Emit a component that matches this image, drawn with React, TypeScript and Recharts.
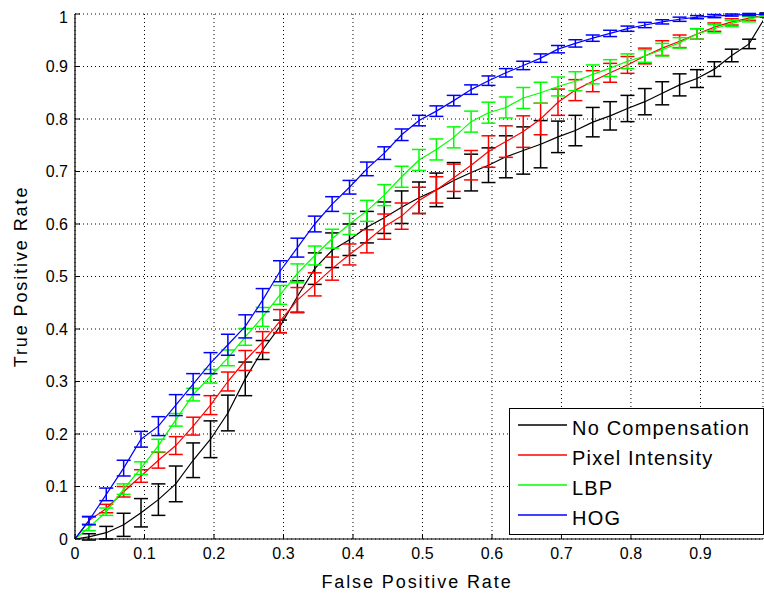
import React from 'react';
import { LineChart, Line, XAxis, YAxis, CartesianGrid, ErrorBar, Legend, Label } from 'recharts';

const fpr = [0, 0.02, 0.045, 0.07, 0.095, 0.12, 0.145, 0.17, 0.195, 0.22, 0.245, 0.27, 0.295, 0.32, 0.345, 0.37, 0.395, 0.42, 0.445, 0.47, 0.495, 0.52, 0.545, 0.57, 0.595, 0.62, 0.645, 0.67, 0.695, 0.72, 0.745, 0.77, 0.795, 0.82, 0.845, 0.87, 0.895, 0.92, 0.945, 0.97, 0.995, 1];

const noCompensation = [0, 0.004, 0.012, 0.027, 0.05, 0.075, 0.105, 0.15, 0.19, 0.24, 0.305, 0.36, 0.405, 0.462, 0.515, 0.55, 0.57, 0.594, 0.612, 0.632, 0.65, 0.665, 0.683, 0.698, 0.712, 0.728, 0.74, 0.752, 0.766, 0.778, 0.794, 0.806, 0.82, 0.833, 0.849, 0.865, 0.877, 0.895, 0.921, 0.943, 0.998, 1];
const noCompensationErr = [null, 0.006, 0.012, 0.022, 0.027, 0.03, 0.034, 0.033, 0.035, 0.034, 0.032, 0.018, 0.012, 0.03, 0.03, 0.033, 0.03, 0.03, 0.03, 0.031, 0.03, 0.032, 0.034, 0.035, 0.033, 0.04, 0.045, 0.045, 0.03, 0.029, 0.028, 0.027, 0.025, 0.025, 0.022, 0.021, 0.017, 0.014, 0.012, 0.009, 0.004, null];

const pixelIntensity = [0, 0.035, 0.058, 0.09, 0.12, 0.15, 0.178, 0.215, 0.255, 0.3, 0.34, 0.375, 0.415, 0.455, 0.485, 0.515, 0.542, 0.567, 0.595, 0.615, 0.645, 0.665, 0.688, 0.712, 0.738, 0.757, 0.776, 0.8, 0.832, 0.855, 0.872, 0.888, 0.903, 0.92, 0.935, 0.948, 0.962, 0.975, 0.985, 0.992, 0.998, 1];
const pixelIntensityErr = [null, 0.007, 0.008, 0.01, 0.012, 0.015, 0.017, 0.017, 0.018, 0.018, 0.019, 0.02, 0.022, 0.024, 0.022, 0.022, 0.02, 0.022, 0.024, 0.025, 0.025, 0.025, 0.026, 0.028, 0.03, 0.03, 0.03, 0.03, 0.025, 0.02, 0.02, 0.018, 0.016, 0.015, 0.014, 0.012, 0.01, 0.008, 0.006, 0.004, 0.002, null];

const lbp = [0, 0.022, 0.052, 0.095, 0.135, 0.178, 0.227, 0.275, 0.31, 0.345, 0.385, 0.423, 0.465, 0.506, 0.54, 0.572, 0.6, 0.625, 0.655, 0.69, 0.722, 0.742, 0.765, 0.795, 0.812, 0.822, 0.84, 0.85, 0.862, 0.872, 0.885, 0.897, 0.91, 0.92, 0.932, 0.945, 0.962, 0.972, 0.982, 0.99, 0.998, 1];
const lbpErr = [null, 0.006, 0.007, 0.01, 0.012, 0.012, 0.012, 0.012, 0.013, 0.015, 0.016, 0.018, 0.018, 0.018, 0.018, 0.018, 0.02, 0.02, 0.02, 0.02, 0.02, 0.02, 0.02, 0.02, 0.02, 0.02, 0.02, 0.02, 0.018, 0.018, 0.018, 0.016, 0.014, 0.012, 0.012, 0.01, 0.01, 0.008, 0.006, 0.005, 0.002, null];

const hog = [0, 0.035, 0.085, 0.135, 0.19, 0.215, 0.255, 0.295, 0.335, 0.37, 0.405, 0.455, 0.51, 0.555, 0.6, 0.638, 0.67, 0.705, 0.735, 0.77, 0.797, 0.815, 0.835, 0.856, 0.873, 0.888, 0.902, 0.916, 0.933, 0.944, 0.954, 0.963, 0.972, 0.979, 0.985, 0.99, 0.994, 0.996, 0.998, 0.999, 1, 1];
const hogErr = [null, 0.008, 0.012, 0.015, 0.015, 0.018, 0.02, 0.02, 0.02, 0.02, 0.022, 0.022, 0.02, 0.018, 0.015, 0.014, 0.013, 0.013, 0.012, 0.011, 0.01, 0.01, 0.01, 0.009, 0.009, 0.008, 0.008, 0.008, 0.007, 0.007, 0.006, 0.006, 0.005, 0.005, 0.004, 0.004, 0.003, 0.003, 0.002, 0.002, 0.001, null];

const xTicks = [0, 0.1, 0.2, 0.3, 0.4, 0.5, 0.6, 0.7, 0.8, 0.9];
const yTicks = [0, 0.1, 0.2, 0.3, 0.4, 0.5, 0.6, 0.7, 0.8, 0.9, 1];

const seriesNames = ['No Compensation', 'Pixel Intensity', 'LBP', 'HOG'];
const seriesKeys = ['nc', 'pi', 'lbp', 'hog'];
const seriesColors = ['#000000', '#ff0000', '#00ff00', '#0000ff'];

const data = fpr.map((x, i) => ({
  x,
  nc: noCompensation[i],
  ncErr: noCompensationErr[i],
  pi: pixelIntensity[i],
  piErr: pixelIntensityErr[i],
  lbp: lbp[i],
  lbpErr: lbpErr[i],
  hog: hog[i],
  hogErr: hogErr[i],
}));

const FONT = '"Liberation Sans", Arial, Helvetica, sans-serif';

const YLabel = (props: any) => {
  const vb = props.viewBox;
  const cx = vb.x + 19;
  const cy = vb.y + vb.height / 2;
  return (
    <text x={cx} y={cy} transform={`rotate(-90, ${cx}, ${cy})`} textAnchor="middle" fontSize={18} letterSpacing={1.9} fill="#000" fontFamily={FONT}>
      True Positive Rate
    </text>
  );
};

const XLabel = (props: any) => {
  const vb = props.viewBox;
  const cx = vb.x + vb.width / 2 - 2;
  const cy = vb.y + 49;
  return (
    <text x={cx} y={cy} textAnchor="middle" fontSize={18} letterSpacing={1.9} fill="#000" fontFamily={FONT}>
      False Positive Rate
    </text>
  );
};

const LegendBox = () => (
  <div
    style={{
      border: '1px solid #000',
      background: '#fff',
      width: 255,
      height: 127,
      boxSizing: 'border-box',
      paddingTop: 4,
      fontFamily: FONT,
      fontSize: 20,
      letterSpacing: 1.2,
      color: '#000',
    }}
  >
    {seriesNames.map((name, i) => (
      <div key={name} style={{ display: 'flex', alignItems: 'center', height: 30 }}>
        <div
          style={{
            width: 49,
            height: 2,
            background: seriesColors[i],
            opacity: 0.75,
            marginLeft: 8,
            marginRight: 5,
            transform: 'translateY(-3px)',
            flex: 'none',
          }}
        />
        <span style={{ whiteSpace: 'nowrap' }}>{name}</span>
      </div>
    ))}
  </div>
);

export default function App() {
  return (
    <div style={{ position: 'fixed', left: 0, top: 0, width: 764, height: 596, overflow: 'visible', background: '#fff' }}>
      <style>{'html, body { overflow: hidden; }'}</style>
      <div style={{ position: 'absolute', left: 8, top: 8, width: 756, height: 588, fontFamily: FONT }}>
        <LineChart width={756} height={588} data={data} margin={{ top: 6, right: 1, left: 0, bottom: 0 }} style={{ fontFamily: FONT }}>
          <CartesianGrid stroke="#000" strokeDasharray="1 3" strokeWidth={1} />
          <XAxis
            type="number"
            dataKey="x"
            domain={[0, 0.99]}
            allowDataOverflow
            ticks={xTicks}
            height={57}
            tickSize={-5}
            tickMargin={14}
            axisLine={{ stroke: '#000', strokeWidth: 1.2 }}
            tickLine={{ stroke: '#000' }}
            tick={{ fill: '#000', fontSize: 16, fontFamily: FONT }}
          >
            <Label content={<XLabel />} />
          </XAxis>
          <YAxis
            type="number"
            domain={[0, 1]}
            allowDataOverflow
            ticks={yTicks}
            width={67}
            tickSize={-5}
            tickMargin={12}
            axisLine={{ stroke: '#000', strokeWidth: 1.2 }}
            tickLine={{ stroke: '#000' }}
            tick={{ fill: '#000', fontSize: 16, fontFamily: FONT }}
          >
            <Label content={<YLabel />} />
          </YAxis>
          {seriesKeys.map((k, i) => (
            <Line
              key={k}
              type="linear"
              dataKey={k}
              name={seriesNames[i]}
              stroke={seriesColors[i]}
              strokeWidth={1.2}
              dot={false}
              activeDot={false}
              isAnimationActive={false}
            >
              <ErrorBar dataKey={`${k}Err`} width={7} stroke={seriesColors[i]} strokeWidth={1.5} direction="y" isAnimationActive={false} />
            </Line>
          ))}
          <Legend
            layout="horizontal"
            verticalAlign="middle"
            align="center"
            content={<LegendBox />}
            wrapperStyle={{ left: 501, top: 400, width: 255, height: 127 }}
          />
        </LineChart>
      </div>
    </div>
  );
}
